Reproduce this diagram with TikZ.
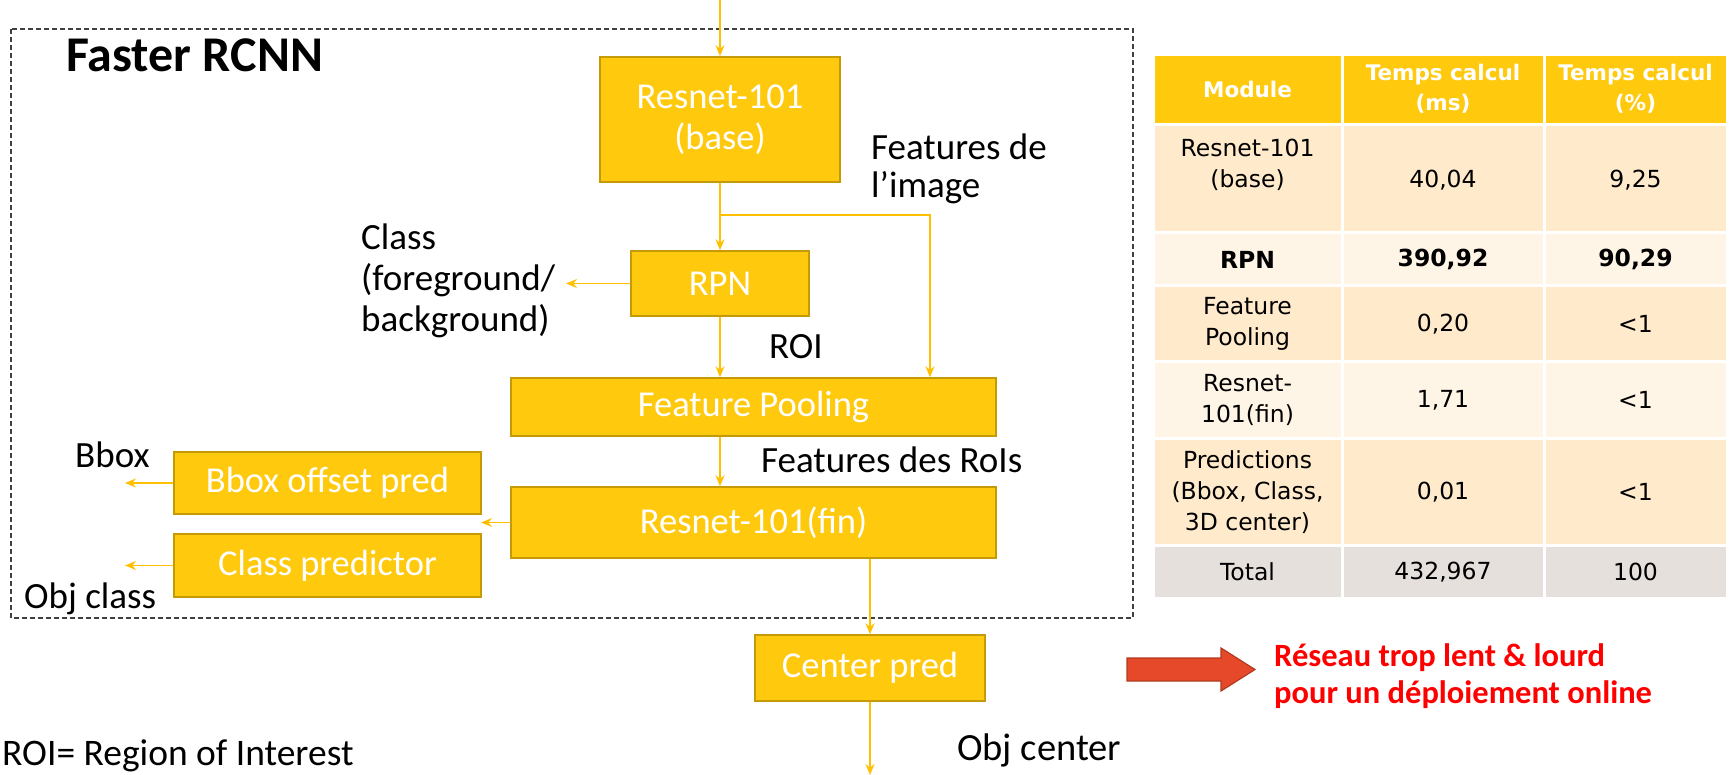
\documentclass[tikz,border=0pt]{standalone}
\usepackage{fontspec}
\setmainfont{Carlito}
\newfontfamily\tabfont{DejaVu Sans}
\usetikzlibrary{arrows.meta,calc}
\definecolor{boxyellow}{HTML}{FFC90E}
\definecolor{boxedge}{HTML}{C49A06}
\definecolor{arrowyellow}{HTML}{FFC000}
\definecolor{rowA}{HTML}{FFEBCB}
\definecolor{rowB}{HTML}{FFF5E6}
\definecolor{rowT}{HTML}{E6E0DD}
\definecolor{redarrow}{HTML}{E5492A}
\definecolor{redarrowedge}{HTML}{B23A1E}
\definecolor{redtext}{HTML}{FF0000}
\definecolor{dashgray}{HTML}{404040}
\begin{document}
\begin{tikzpicture}[x=1pt,y=-1pt,
  blk/.style={draw=boxedge, line width=1.5pt, fill=boxyellow, text=white, font=\fontsize{36.5}{41}\selectfont, inner sep=0pt, align=center},
  flow/.style={draw=arrowyellow, line width=1.4pt, -{Stealth[length=11pt,width=9pt]}},
  lbl/.style={font=\fontsize{37}{38}\selectfont, align=left, anchor=west, inner sep=0pt},
  cell/.style={draw=white, line width=3pt},
  tab/.style={font=\tabfont\fontsize{23.5}{31}\selectfont, align=center, inner sep=0pt},
  tabh/.style={font=\tabfont\bfseries\fontsize{21.5}{30}\selectfont, align=center, text=white, inner sep=0pt},
]
\useasboundingbox (0,0) rectangle (1729,775);

% dashed frame
\draw[dashgray, line width=1.5pt, dash pattern=on 5pt off 3pt] (11,29) rectangle (1133,618);
\node[font=\bfseries\fontsize{50}{52}\selectfont, anchor=base west, inner sep=0pt] (title) at (66,72) {Faster RCNN};

% blocks
\node[blk, minimum width=240, minimum height=125] (base) at (720,119.5) {Resnet-101\\(base)};
\node[blk, minimum width=178, minimum height=65] (rpn) at (720,283.5) {RPN};
\node[blk, minimum width=485, minimum height=58] (fp) at (753.5,407) {Feature Pooling};
\node[blk, minimum width=485, minimum height=71] (fin) at (753.5,522.5) {Resnet-101(fin)};
\node[blk, minimum width=307, minimum height=62] (bbox) at (327.5,483) {Bbox offset pred};
\node[blk, minimum width=307, minimum height=63] (cls) at (327.5,565.5) {Class predictor};
\node[blk, minimum width=230, minimum height=66] (ctr) at (870,668) {Center pred};

% coordinates
\coordinate (in) at (720,0);
\coordinate (br) at (720,215);
\coordinate (brx) at (930,215);
\coordinate (clsout) at (566,283.5);
\coordinate (finout) at (481,522.5);
\coordinate (bboxout) at (125,483);
\coordinate (clsobj) at (125,565.5);
\coordinate (out) at (870,775);

% connectors
\draw[flow] (in) -- (base.north);
\draw[flow] (base.south) -- (rpn.north);
\draw[flow] (br) -- (brx) -- (brx |- fp.north);
\draw[flow] (rpn.west) -- (clsout);
\draw[flow] (rpn.south) -- (rpn.south |- fp.north);
\draw[flow] (rpn.south |- fp.south) -- (rpn.south |- fin.north);
\draw[flow] (fin.west) -- (finout);
\draw[flow] (bbox.west) -- (bboxout);
\draw[flow] (cls.west) -- (clsobj);
\draw[flow] (fin.south -| ctr.north) -- (ctr.north);
\draw[flow] (ctr.south) -- (out);

% labels
\node[lbl, font=\fontsize{37}{37.5}\selectfont] (featimg) at (871,169) {Features de\\l’image};
\node[lbl, font=\fontsize{37}{41}\selectfont] (classlbl) at (361,281) {Class\\(foreground/\\background)};
\node[lbl] (roi) at (769,347) {ROI};
\node[lbl] (featroi) at (761,460) {Features des RoIs};
\node[lbl] (bboxlbl) at (75,455) {Bbox};
\node[lbl] (objcls) at (24,599) {Obj class};
\node[lbl, font=\fontsize{38.5}{40}\selectfont] (objctr) at (957,750) {Obj center};
\node[lbl, font=\fontsize{37.5}{40}\selectfont] (roidef) at (2,756) {ROI= Region of Interest};

% red arrow and text
\draw[fill=redarrow, draw=redarrowedge, line width=1.2pt]
  (1127,658) -- (1221,658) -- (1221,648) -- (1255,669.5) -- (1221,691) -- (1221,681) -- (1127,681) -- cycle;
\node[lbl, font=\bfseries\fontsize{32.5}{37}\selectfont, text=redtext] (conclusion) at (1274,676.5) {Réseau trop lent \& lourd\\pour un déploiement online};

% table
\path[cell, fill=boxyellow] (1153,55) rectangle (1727,125);
\path[cell, fill=rowA] (1153,125) rectangle (1727,233);
\path[cell, fill=rowB] (1153,233) rectangle (1727,286);
\path[cell, fill=rowA] (1153,286) rectangle (1727,362);
\path[cell, fill=rowB] (1153,362) rectangle (1727,438);
\path[cell, fill=rowA] (1153,438) rectangle (1727,545);
\path[cell, fill=rowT] (1153,545) rectangle (1727,598);
\draw[white, line width=3pt] (1342,55) -- (1342,598) (1544,55) -- (1544,598);

\node[tabh] (h1) at (1247.5,89) {Module};
\node[tabh] (h2) at (1443,89) {Temps calcul\\(ms)};
\node[tabh] (h3) at (1635.5,89) {Temps calcul\\(\%)};

\node[tab] (a1) at (1247.5,165) {Resnet-101\\(base)};
\node[tab] (a2) at (1443,180) {40,04};
\node[tab] (a3) at (1635.5,180) {9,25};

\node[tab, font=\tabfont\bfseries\fontsize{23.5}{31}\selectfont] (b1) at (1247.5,259.5) {RPN};
\node[tab, font=\tabfont\bfseries\fontsize{23.5}{31}\selectfont] (b2) at (1443,259.5) {390,92};
\node[tab, font=\tabfont\bfseries\fontsize{23.5}{31}\selectfont] (b3) at (1635.5,259.5) {90,29};

\node[tab] (c1) at (1247.5,324) {Feature\\Pooling};
\node[tab] (c2) at (1443,324) {0,20};
\node[tab] (c3) at (1635.5,324) {<1};

\node[tab] (d1) at (1247.5,400) {Resnet-\\101(fin)};
\node[tab] (d2) at (1443,400) {1,71};
\node[tab] (d3) at (1635.5,400) {<1};

\node[tab] (e1) at (1247.5,492) {Predictions\\(Bbox, Class,\\3D center)};
\node[tab] (e2) at (1443,492) {0,01};
\node[tab] (e3) at (1635.5,492) {<1};

\node[tab] (f1) at (1247.5,572) {Total};
\node[tab] (f2) at (1443,572) {432,967};
\node[tab] (f3) at (1635.5,572) {100};
\end{tikzpicture}
\end{document}
